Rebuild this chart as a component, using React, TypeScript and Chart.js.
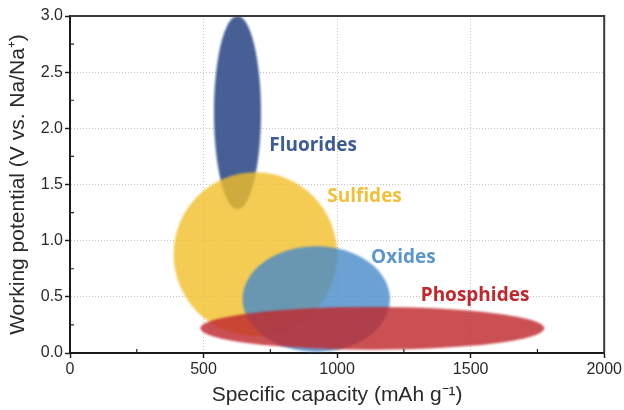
import React, { useEffect, useRef } from "react";
import { Chart, registerables } from "chart.js";

Chart.register(...registerables);

// Material families and their working regions (capacity in mAh/g, potential in V)
const categories = ["Fluorides", "Sulfides", "Oxides", "Phosphides"];
const centerCapacity = [627, 694, 922, 1132];
const centerPotential = [2.14, 0.88, 0.48, 0.22];
const capacitySpread = [88, 306, 276, 644];
const potentialSpread = [0.86, 0.73, 0.47, 0.19];

// Where each family name is written (data units, left edge / baseline)
const labelCapacity = [746, 963, 1127, 1313];
const labelPotential = [1.8, 1.344, 0.8, 0.463];

const fillColors = [
  "rgba(50, 78, 138, 0.9)",
  "rgba(241, 190, 40, 0.8)",
  "rgba(70, 138, 200, 0.8)",
  "rgba(192, 42, 46, 0.82)",
];
const labelColors = ["#3e5b93", "#f1c03a", "#5b96cc", "#c0262c"];

const xTicks = [0, 500, 1000, 1500, 2000];
const yTicks = [0, 0.5, 1.0, 1.5, 2.0, 2.5, 3.0];

const ellipsePlugin = {
  id: "ellipses",
  beforeDatasetsDraw(chart: any) {
    const { ctx, chartArea, scales } = chart;
    const xs = scales.x;
    const ys = scales.y;
    ctx.save();
    ctx.beginPath();
    ctx.rect(chartArea.left, chartArea.top - 2, chartArea.right - chartArea.left, chartArea.bottom - chartArea.top + 2);
    ctx.clip();
    ctx.filter = "blur(1px)";
    chart.data.datasets.forEach((ds: any, i: number) => {
      const p = ds.data[0];
      const cx = xs.getPixelForValue(p.x);
      const cy = ys.getPixelForValue(p.y);
      const rx = Math.abs(xs.getPixelForValue(p.x + p.rx) - cx);
      const ry = Math.abs(ys.getPixelForValue(p.y + p.ry) - cy);
      ctx.beginPath();
      ctx.ellipse(cx, cy, rx, ry, 0, 0, Math.PI * 2);
      ctx.fillStyle = fillColors[i];
      ctx.fill();
    });
    ctx.restore();
  },
  afterDatasetsDraw(chart: any) {
    const { ctx, scales } = chart;
    ctx.save();
    ctx.font = "bold 19px 'Open Sans', Lato, sans-serif";
    ctx.textBaseline = "alphabetic";
    ctx.textAlign = "left";
    categories.forEach((name, i) => {
      ctx.fillStyle = labelColors[i];
      ctx.fillText(
        name,
        scales.x.getPixelForValue(labelCapacity[i]),
        scales.y.getPixelForValue(labelPotential[i])
      );
    });
    ctx.restore();
  },
  afterDraw(chart: any) {
    const { ctx, chartArea, scales } = chart;
    const { left, right, top, bottom } = chartArea;
    ctx.save();
    // top and right frame
    ctx.strokeStyle = "#3a3a3a";
    ctx.lineWidth = 2;
    ctx.beginPath();
    ctx.moveTo(left, top);
    ctx.lineTo(right, top);
    ctx.lineTo(right, bottom);
    ctx.stroke();
    // minor ticks pointing inward
    ctx.strokeStyle = "#222";
    ctx.lineWidth = 1.2;
    ctx.beginPath();
    for (let i = 0; i < xTicks.length - 1; i++) {
      const px = scales.x.getPixelForValue((xTicks[i] + xTicks[i + 1]) / 2);
      ctx.moveTo(px, bottom);
      ctx.lineTo(px, bottom - 4);
    }
    for (let i = 0; i < yTicks.length - 1; i++) {
      const py = scales.y.getPixelForValue((yTicks[i] + yTicks[i + 1]) / 2);
      ctx.moveTo(left, py);
      ctx.lineTo(left + 4, py);
    }
    ctx.stroke();
    ctx.restore();
  },
};

export default function App() {
  const canvasRef = useRef<HTMLCanvasElement | null>(null);

  useEffect(() => {
    if (!canvasRef.current) return;
    const tickFont = { family: "'Liberation Sans', Arial, sans-serif", size: 16 };
    const titleFont = { family: "'Liberation Sans', Arial, sans-serif", size: 21 };
    const chart = new Chart(canvasRef.current, {
      type: "scatter",
      data: {
        datasets: categories.map((name, i) => ({
          label: name,
          data: [
            {
              x: centerCapacity[i],
              y: centerPotential[i],
              rx: capacitySpread[i],
              ry: potentialSpread[i],
            } as any,
          ],
          pointRadius: 0,
          pointHoverRadius: 0,
        })),
      },
      options: {
        animation: false,
        responsive: true,
        maintainAspectRatio: false,
        events: [],
        layout: { padding: { top: 16, right: 18, left: 0, bottom: 0 } },
        plugins: {
          legend: { display: false },
          tooltip: { enabled: false },
        },
        scales: {
          x: {
            type: "linear",
            min: 0,
            max: 2000,
            afterBuildTicks(scale: any) {
              scale.ticks = xTicks.map((v) => ({ value: v }));
            },
            afterFit(scale: any) {
              scale.height = 57;
            },
            ticks: {
              color: "#2a2a2a",
              font: tickFont,
              padding: 2,
              maxRotation: 0,
              callback: (v: any) => String(v),
            },
            grid: {
              color: "#c4c4c4",
              lineWidth: 1,
              tickLength: 5,
              tickColor: "#222",
              tickWidth: 1.5,
            },
            border: { color: "#1a1a1a", width: 2, dash: [1, 2] },
            title: {
              display: true,
              text: "Specific capacity (mAh g\u207B\u00B9)",
              color: "#2a2a2a",
              font: titleFont,
              padding: { top: 0, bottom: 2 },
            },
          },
          y: {
            type: "linear",
            min: 0,
            max: 3,
            afterBuildTicks(scale: any) {
              scale.ticks = yTicks.map((v) => ({ value: v }));
            },
            afterFit(scale: any) {
              scale.width = 70;
            },
            ticks: {
              color: "#2a2a2a",
              font: tickFont,
              padding: 2,
              callback: (v: any) => Number(v).toFixed(1),
            },
            grid: {
              color: "#c4c4c4",
              lineWidth: 1,
              tickLength: 5,
              tickColor: "#222",
              tickWidth: 1.5,
            },
            border: { color: "#1a1a1a", width: 2, dash: [1, 2] },
            title: {
              display: true,
              text: "Working potential (V vs. Na/Na\u207A)",
              color: "#2a2a2a",
              font: titleFont,
              padding: { top: 6, bottom: 0 },
            },
          },
        },
      },
      plugins: [ellipsePlugin],
    });
    return () => chart.destroy();
  }, []);

  return (
    <div style={{ position: "fixed", left: 0, top: 0, width: 624, height: 410, background: "#fff" }}>
      <canvas ref={canvasRef} />
    </div>
  );
}
